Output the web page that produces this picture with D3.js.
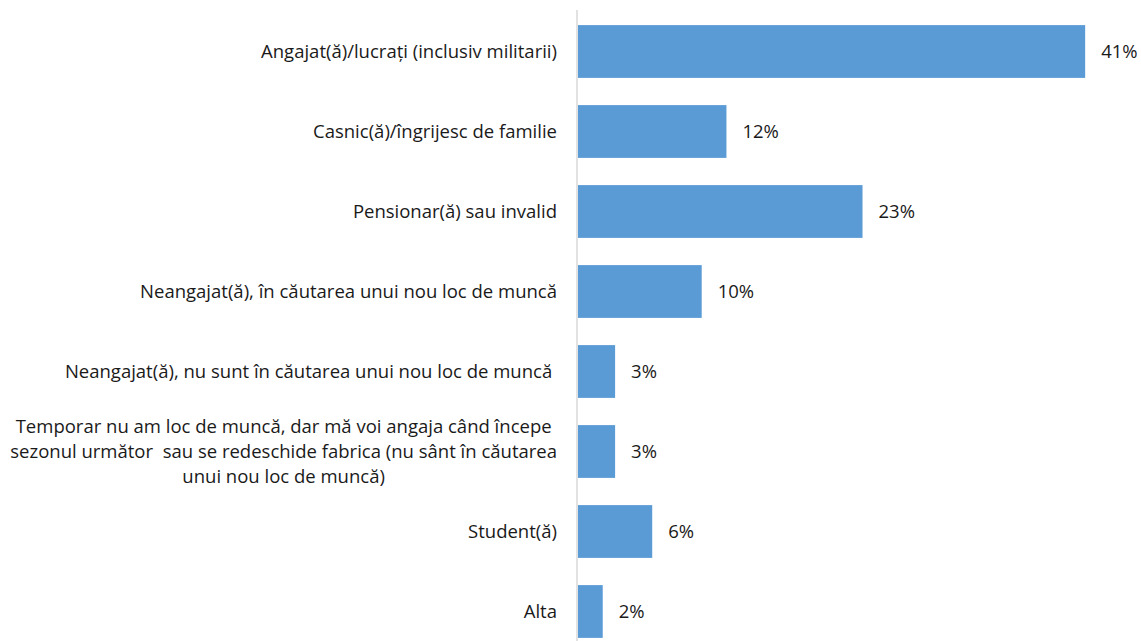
<!DOCTYPE html>
<html>
<head>
<meta charset="utf-8">
<script src="https://cdn.jsdelivr.net/npm/d3@7"></script>
<style>
  body { margin: 0; background: #fff; }
  #chart { width: 1141px; height: 641px; }
  text { font-family: "Open Sans", Lato, sans-serif; font-size: 18.5px; fill: #1a1a1a; white-space: pre; }
</style>
</head>
<body>
<div id="chart"></div>
<script>
var categories = [
    ["Angajat(ă)/lucrați (inclusiv militarii)"],
    ["Casnic(ă)/îngrijesc de familie"],
    ["Pensionar(ă) sau invalid"],
    ["Neangajat(ă), în căutarea unui nou loc de muncă"],
    ["Neangajat(ă), nu sunt în căutarea unui nou loc de muncă "],
    ["Temporar nu am loc de muncă, dar mă voi angaja când începe",
     "sezonul următor  sau se redeschide fabrica (nu sânt în căutarea",
     "unui nou loc de muncă)"],
    ["Student(ă)"],
    ["Alta"]
];
var values = [41, 12, 23, 10, 3, 3, 6, 2];

var width = 1141, height = 641;
var axisX = 577;

var svg = d3.select("#chart").append("svg")
    .attr("width", width)
    .attr("height", height);

var keys = categories.map(function(d, i) { return "c" + i; });

var yScale = d3.scaleBand()
    .domain(keys)
    .range([11.5, 651.5])
    .paddingInner(0.34)
    .paddingOuter(0.17);

var xScale = d3.scaleLinear()
    .domain([0, 45])
    .range([axisX + 1, axisX + 1 + 45 * 12.37]);

// bars
svg.selectAll("rect.bar")
    .data(values)
    .enter().append("rect")
    .attr("class", "bar")
    .attr("x", xScale(0))
    .attr("y", function(d, i) { return yScale(keys[i]); })
    .attr("width", function(d) { return xScale(d) - xScale(0); })
    .attr("height", yScale.bandwidth())
    .attr("fill", "#5B9BD5");

// axis line
svg.append("line")
    .attr("x1", axisX).attr("x2", axisX)
    .attr("y1", 10).attr("y2", height)
    .attr("stroke", "#d9d9d9")
    .attr("stroke-width", 1.5);

// value labels
svg.selectAll("text.val")
    .data(values)
    .enter().append("text")
    .attr("class", "val")
    .attr("x", function(d) { return xScale(d) + 16; })
    .attr("y", function(d, i) { return yScale(keys[i]) + yScale.bandwidth() / 2; })
    .attr("dy", "0.35em")
    .text(function(d) { return d + "%"; });

// category labels
var labelRight = 557;
categories.forEach(function(lines, i) {
    var cy = yScale(keys[i]) + yScale.bandwidth() / 2;
    if (lines.length == 1) {
        svg.append("text")
            .attr("x", labelRight)
            .attr("y", cy)
            .attr("dy", "0.35em")
            .attr("text-anchor", "end")
            .text(lines[0]);
    } else {
        var lh = 25;
        var t = svg.append("text").attr("text-anchor", "middle");
        lines.forEach(function(l, j) {
            t.append("tspan")
                .attr("y", cy + (j - (lines.length - 1) / 2) * lh)
                .attr("dy", "0.35em")
                .text(l);
        });
        var maxW = d3.max(t.selectAll("tspan").nodes(), function(n) { return n.getComputedTextLength(); });
        t.selectAll("tspan").attr("x", labelRight - maxW / 2);
    }
});
</script>
</body>
</html>
